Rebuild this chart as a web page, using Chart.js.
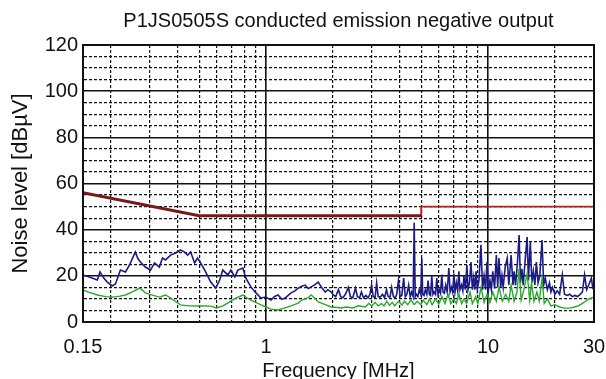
<!DOCTYPE html>
<html>
<head>
<meta charset="utf-8">
<script src="https://cdn.jsdelivr.net/npm/chart.js@4"></script>
<style>
html,body{margin:0;padding:0;background:#fff;}
#wrap{width:606px;height:379px;position:relative;}
</style>
</head>
<body>
<div id="wrap"><canvas id="c" width="606" height="379"></canvas></div>
<script>
const chartTitle = 'P1JS0505S conducted emission negative output';
const xTitle = 'Frequency [MHz]';
const yTitle = 'Noise level [dBµV]';
const xTickLabels = [0.15, 1, 10, 30];
const xGridValues = [0.15,0.2,0.3,0.4,0.5,0.6,0.7,0.8,0.9,1,2,3,4,5,6,7,8,9,10,20,30];
const xMajor = [1, 10];

const limitFreqA = [0.15, 0.5, 5];
const limitLevelA = [56, 46, 46];
const limitFreqB = [5, 5, 30];
const limitLevelB = [46, 50, 50];

const peakFreq = [0.15,0.16,0.174,0.179,0.186,0.193,0.203,0.21,0.221,0.233,0.243,0.258,0.265,0.272,0.286,0.302,0.315,0.331,0.342,0.353,0.372,0.392,0.412,0.43,0.444,0.458,0.477,0.492,0.508,0.53,0.564,0.594,0.619,0.639,0.673,0.695,0.724,0.747,0.787,0.812,0.855,0.901,0.949,1.0,1.053,1.09,1.133,1.18,1.219,1.297,1.35,1.396,1.45,1.501,1.55,1.598,1.65,1.719,1.78,1.849,1.9,1.968,
2.0,2.06,2.12,2.17,2.22,2.28,2.35,2.4,2.46,2.53,2.58,2.64,2.69,2.75,2.82,2.88,2.94,2.99,3.04,3.1,3.15,3.2,3.27,3.35,3.42,3.49,3.55,3.62,3.68,3.75,3.82,3.88,3.95,4.02,4.09,4.17,4.24,4.31,4.39,4.46,4.53,4.6,4.65,4.7,4.76,4.83,4.9,4.98,5.03,5.08,5.15,5.22,5.3,5.37,5.44,5.51,5.58,5.65,5.72,5.8,5.88,5.95,6.03,6.11,6.19,6.27,6.36,6.45,6.55,6.66,6.75,6.85,6.93,7.02,7.1,7.2,7.3,7.39,7.48,7.6,7.7,7.79,7.9,8.03,8.12,8.25,8.38,8.5,8.62,8.72,8.83,8.95,9.1,9.29,9.45,9.6,9.75,9.89,10.05,10.2,10.35,10.5,10.7,10.9,11.05,11.2,11.4,11.55,11.7,11.95,12.2,12.4,12.7,12.95,13.1,13.3,13.55,13.8,14.0,14.2,14.4,14.7,15.0,15.2,15.5,15.75,16.0,16.25,16.5,16.8,17.1,17.5,17.8,18.1,18.5,18.9,19.2,19.5,20.0,20.5,21.0,21.6,22.1,22.7,23.3,24.0,24.6,25.3,26.0,26.6,27.2,27.8,28.4,29.2,29.6,30];
const peakLevel = [20.4,19.5,18.2,21.7,19,17.3,15.6,16.5,22.5,21.7,24.7,30.3,27.5,26,23.8,22.5,25.6,23.8,27.7,26.9,29,29.9,31.2,30.3,29,30.3,25.6,27.7,25.6,22.5,17.3,14.7,18.2,22.5,20.4,22.5,19.5,22.5,23.4,19,15.2,12.6,10.4,10.8,9.5,11,11.7,9.8,10.4,12.6,13.5,14.7,15.5,16,14.5,15.2,16,17.3,15,13,14,13,
12,11,14,11,10.5,12,15,11,10.5,14.7,11,10.5,13,10.5,11.5,10.5,12,16,11,10.5,17,11,10.8,12,10.5,14,11,10.8,15,11,10.5,12,18,11,11.5,19,11,12,16,11,13,11,43,11,12,11,14,12,27.7,12,11.5,14,12,18,12,11.5,20,12,13,12,19,12,14,12.5,20.5,13,12.5,16,13,23.4,13,15,13,21,13,17,13.5,22,14,16,13.5,20,14,24.7,14,17,26,14,19,14,22,14,18,33.4,14,20,14,26,14,18,14,22,14.5,29,15,27.7,15,20,15,24,27.7,16,29,16,22,16,25,37.7,17,23,16,27,36.8,18,34.7,17,22,16,26,17,20,35.5,16,19,14,17,13,15,12,13.5,12,20.4,12,11.5,12,11,11.5,11,12,13,20.4,14,16,19,15,16];

const avgFreq = [0.15,0.16,0.174,0.19,0.205,0.22,0.233,0.25,0.27,0.28,0.286,0.3,0.331,0.353,0.372,0.39,0.412,0.45,0.492,0.53,0.564,0.6,0.64,0.673,0.72,0.787,0.82,0.855,0.9,0.949,1.0,1.053,1.133,1.219,1.3,1.396,1.45,1.55,1.598,1.65,1.719,1.85,1.968,2.1,2.18,2.3,2.47,2.6,2.8,2.9,3.0,3.1,3.2,3.31,3.4,3.5,3.6,3.7,3.8,3.95,4.1,4.2,4.35,4.5,4.65,4.8,4.98,5.1,5.3,5.45,5.6,5.8,6.0,6.2,6.4,6.6,6.8,7.0,7.2,7.4,7.6,7.8,8.0,8.3,8.5,8.8,9.0,9.3,9.6,9.9,10.2,10.5,10.9,11.2,11.6,12.0,12.4,12.7,13.1,13.5,13.8,14.1,14.5,15.0,15.4,15.7,16.1,16.6,17.0,17.5,17.9,18.5,19.2,20.0,21.0,22.0,23.3,24.5,25.5,26.5,27.5,28.5,30];
const avgLevel = [13.9,12.8,11.7,11,10.8,11.2,11.7,13,14.7,13.5,12.6,12,10.8,11.7,10.4,9,7.4,7,6.9,7,6.9,6.1,7,8.2,10,11.7,10.5,9.5,8.5,7.4,6.5,5.6,5.2,6.1,7,8.2,9.5,10.5,11.7,10.5,8.7,7.5,6.5,6.3,6.1,6.5,6.1,7,6.5,8,7,8.5,7,8,7,9,7.2,8.5,7,9,7.3,9,7.5,9.5,7.5,9,7.5,9.5,7.5,10,7.5,10,7.8,11,8,12,8,10,8,12,8,10,8,13,8,11,8,15,8.5,12,8.5,13,9,15,9,12,9,16,9,13,23,9.5,14,21,9.5,17,9,13,9,19,8,10,7,7.5,6.5,6,6,6.5,7,8,9,10,10.8];

function pts(xs, ys){ return xs.map((x,i)=>({x:x, y:ys[i]})); }
const FONT = 'Liberation Sans, Arial, sans-serif';

const frame = {
  id:'frame',
  afterDatasetsDraw(chart){
    const a = chart.chartArea, ctx = chart.ctx;
    ctx.save();
    ctx.strokeStyle = '#111';
    ctx.lineWidth = 2;
    ctx.strokeRect(a.left, a.top, a.right - a.left, a.bottom - a.top);
    ctx.restore();
  }
};

new Chart(document.getElementById('c'), {
  type: 'line',
  data: {
    datasets: [
      {label:'avg', data: pts(avgFreq, avgLevel), borderColor:'#2aa82a', borderWidth:1.4, pointRadius:0, tension:0},
      {label:'peak', data: pts(peakFreq, peakLevel), borderColor:'#1b1b86', borderWidth:1.6, pointRadius:0, tension:0},
      {label:'limitA', data: pts(limitFreqA, limitLevelA), borderColor:'#7a1818', borderWidth:3, pointRadius:0, tension:0},
      {label:'limitB', data: pts(limitFreqB, limitLevelB), borderColor:'#b82020', borderWidth:1.8, pointRadius:0, tension:0}
    ]
  },
  options: {
    responsive:false,
    animation:false,
    events:[],
    layout:{padding:{left:0, right:12, top:0, bottom:0}},
    plugins:{
      legend:{display:false},
      tooltip:{enabled:false},
      title:{display:true, fullSize:false, text:chartTitle, color:'#111', font:{family:FONT, size:20, weight:'normal'}, padding:{top:9, bottom:12}}
    },
    scales:{
      x:{
        type:'logarithmic', min:0.15, max:30,
        afterBuildTicks(scale){ scale.ticks = xGridValues.map(v=>({value:v})); },
        afterFit(scale){ scale.height = 57; scale.paddingLeft = 0; scale.paddingRight = 0; },
        ticks:{autoSkip:false, maxRotation:0, padding:13, color:'#111',
          font:{family:FONT, size:20},
          callback(v){ return xTickLabels.includes(Number(v)) ? String(v) : ''; }},
        grid:{drawTicks:false, color:'#111',
          lineWidth(ctx){ return ctx.tick && xMajor.includes(ctx.tick.value) ? 1.6 : 1.2; }},
        border:{display:true, color:'#111', width:2,
          dash(ctx){ return ctx.tick && !xMajor.includes(ctx.tick.value) ? [3,2] : []; }},
        title:{display:true, text:xTitle, color:'#111', font:{family:FONT, size:20}, padding:{top:0,bottom:-4}}
      },
      y:{
        min:0, max:120,
        afterFit(scale){ scale.width = 83; scale.paddingTop = 0; scale.paddingBottom = 0; },
        ticks:{stepSize:5, autoSkip:false, padding:5, color:'#111',
          font:{family:FONT, size:20},
          callback(v){ return v % 20 === 0 ? String(v) : ''; }},
        grid:{drawTicks:false, color:'#111',
          lineWidth(ctx){ return ctx.tick && ctx.tick.value % 20 === 0 ? 1.6 : 1.2; }},
        border:{display:true, color:'#111', width:2,
          dash(ctx){ return ctx.tick && ctx.tick.value % 20 !== 0 ? [3,2] : []; }},
        title:{display:true, text:yTitle, color:'#111', font:{family:FONT, size:22}, padding:{top:8,bottom:0}}
      }
    }
  },
  plugins:[frame]
});
</script>
</body>
</html>
